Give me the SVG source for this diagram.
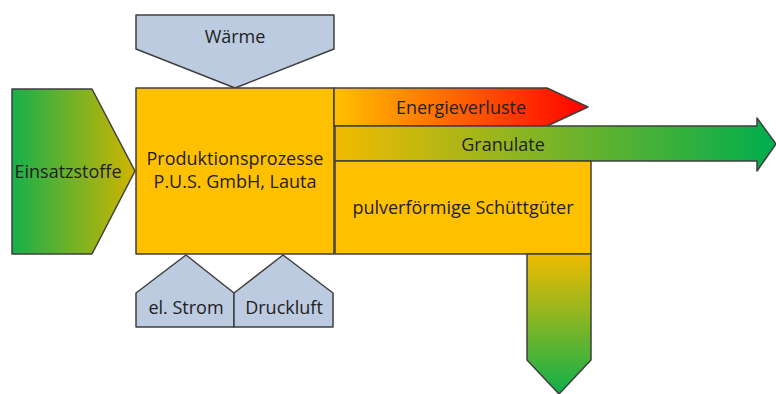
<svg xmlns="http://www.w3.org/2000/svg" width="776" height="394" viewBox="0 0 776 394">
<style>
.s{stroke:#3f3f3f;stroke-width:1.5;stroke-linejoin:round}
.blue{fill:#bccbe0}
.org{fill:#ffc000}
text{font-family:"Open Sans","Noto Sans","Liberation Sans",sans-serif;font-size:18px;fill:#222;text-anchor:middle;dominant-baseline:central}
</style>
<defs>
<linearGradient id="gIn" x1="0" y1="0" x2="1" y2="0">
<stop offset="0" stop-color="#17b04b"/>
<stop offset="1" stop-color="#d0b400"/>
</linearGradient>
<linearGradient id="gLoss" x1="0" y1="0" x2="1" y2="0">
<stop offset="0" stop-color="#ffc000"/>
<stop offset="1" stop-color="#ff0000"/>
</linearGradient>
<linearGradient id="gGran" gradientUnits="userSpaceOnUse" x1="335" y1="0" x2="776" y2="0">
<stop offset="0" stop-color="#f2ba00"/>
<stop offset="1" stop-color="#00ad4e"/>
</linearGradient>
<linearGradient id="gDown" x1="0" y1="0" x2="0" y2="1">
<stop offset="0" stop-color="#f0bb00"/>
<stop offset="1" stop-color="#0fb04b"/>
</linearGradient>
</defs>
<g id="connectors"></g>
<g id="einsatzstoffe">
<path class="s" fill="url(#gIn)" d="M12,89 H92 L135,171 L92,254 H12 Z"/>
<text x="68" y="171">Einsatzstoffe</text>
</g>
<g id="waerme">
<path class="s blue" d="M136,15 H334 V49 L235,88 L136,49 Z"/>
<text x="235" y="36">Wärme</text>
</g>
<g id="produktion">
<rect class="s org" x="136" y="88" width="198" height="166"/>
<text x="235" y="158">Produktionsprozesse</text>
<text x="235" y="181">P.U.S. GmbH, Lauta</text>
</g>
<g id="energieverluste">
<path class="s" fill="url(#gLoss)" d="M334,88 H547 L588,107 L547,126 H334 Z"/>
<text x="461" y="107">Energieverluste</text>
</g>
<g id="granulate">
<path class="s" fill="url(#gGran)" d="M335,126 H757 V118 L776,144 L757,171 V161 H335 Z"/>
<text x="503" y="144">Granulate</text>
</g>
<g id="pulver">
<rect class="s org" x="335" y="161" width="256" height="93"/>
<text x="463" y="207">pulverförmige Schüttgüter</text>
</g>
<g id="down">
<path class="s" fill="url(#gDown)" d="M527,254 H591 V360 L559,394 L527,360 Z"/>
</g>
<g id="strom">
<path class="s blue" d="M136,327 V293 L186,255 L234,293 V327 Z"/>
<text x="186" y="307">el. Strom</text>
</g>
<g id="druckluft">
<path class="s blue" d="M234,327 V293 L283,255 L333,293 V327 Z"/>
<text x="284" y="307">Druckluft</text>
</g>
</svg>
